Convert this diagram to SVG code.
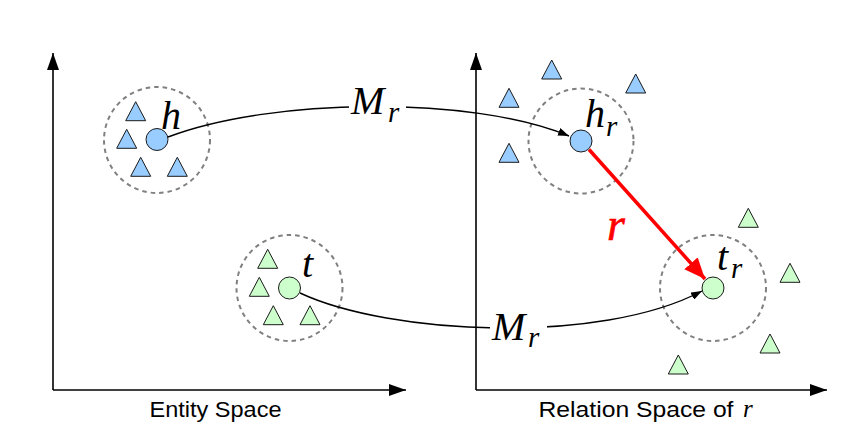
<svg xmlns="http://www.w3.org/2000/svg" xmlns:xlink="http://www.w3.org/1999/xlink" width="866" height="440" viewBox="0 0 866 440">
<style>
.ax{stroke:#000;stroke-width:1.6;fill:none}
.cl{stroke:#808080;stroke-width:2;fill:none;stroke-dasharray:4.5,4}
.b{fill:#99ccff;stroke:#1a1a1a;stroke-width:1}
.g{fill:#ccffcc;stroke:#1a1a1a;stroke-width:1}
.m{font-family:'Liberation Serif','Times New Roman','DejaVu Serif',serif;font-style:italic;font-size:40px;fill:#000}
.s{font-family:'Liberation Serif','Times New Roman','DejaVu Serif',serif;font-style:italic;font-size:29px;fill:#000}
.lab{font-family:'Liberation Sans',Arial,'DejaVu Sans',sans-serif;font-size:21.5px;fill:#000}
.cur{stroke:#000;stroke-width:1.4;fill:none}
</style>
<defs>
<path id="tri" d="M0,0 L10,19 L-10,19 Z"/>
<marker id="axh" markerWidth="18" markerHeight="12" refX="17" refY="6" orient="auto" markerUnits="userSpaceOnUse"><path d="M0,0 L17,6 L0,12 Z" fill="#000"/></marker>
<marker id="sh" markerWidth="12" markerHeight="8" refX="11" refY="4" orient="auto" markerUnits="userSpaceOnUse"><path d="M0,0 L11,4 L0,8 Z" fill="#000"/></marker>
<marker id="rh" markerWidth="22" markerHeight="18" refX="21" refY="9" orient="auto" markerUnits="userSpaceOnUse"><path d="M0,0 L21,9 L0,18 Z" fill="#ff0000"/></marker>
</defs>
<rect width="866" height="440" fill="#fff"/>

<g id="axes">
<path class="ax" d="M53,390 L53,53" marker-end="url(#axh)"/>
<path class="ax" d="M53,390 L406,390" marker-end="url(#axh)"/>
<path class="ax" d="M476,390 L476,53" marker-end="url(#axh)"/>
<path class="ax" d="M476,390 L827,390" marker-end="url(#axh)"/>
</g>

<g id="clusters">
<circle class="cl" cx="157" cy="140" r="53"/>
<circle class="cl" cx="289.5" cy="288" r="53"/>
<circle class="cl" cx="581" cy="141" r="52.5"/>
<circle class="cl" cx="713" cy="288" r="53"/>
</g>

<g id="triangles-blue">
<use xlink:href="#tri" class="b" x="135.7" y="101.7"/>
<use xlink:href="#tri" class="b" x="126.7" y="129.3"/>
<use xlink:href="#tri" class="b" x="140.7" y="157.3"/>
<use xlink:href="#tri" class="b" x="177.3" y="157.3"/>
<use xlink:href="#tri" class="b" x="551.7" y="60"/>
<use xlink:href="#tri" class="b" x="635.7" y="74"/>
<use xlink:href="#tri" class="b" x="509" y="88.3"/>
<use xlink:href="#tri" class="b" x="509" y="143.3"/>
</g>
<g id="triangles-green">
<use xlink:href="#tri" class="g" x="267.7" y="249.3"/>
<use xlink:href="#tri" class="g" x="259.3" y="277.3"/>
<use xlink:href="#tri" class="g" x="273.3" y="305.7"/>
<use xlink:href="#tri" class="g" x="310" y="305.7"/>
<use xlink:href="#tri" class="g" x="748.3" y="208.3"/>
<use xlink:href="#tri" class="g" x="790" y="263.3"/>
<use xlink:href="#tri" class="g" x="770" y="334"/>
<use xlink:href="#tri" class="g" x="678.3" y="355"/>
</g>

<g id="connectors">
<path class="cur" d="M168,137 C270,98 470,95 569,136" marker-end="url(#sh)"/>
<path class="cur" d="M300,293 C390,335 600,345 702,291" marker-end="url(#sh)"/>
<path d="M589,149.5 L705,279" stroke="#ff0000" stroke-width="3.5" fill="none" marker-end="url(#rh)"/>
<rect x="349" y="84" width="57" height="42" fill="#fff"/>
<text class="m" x="351" y="114">M</text><text class="s" x="388" y="122">r</text>
<rect x="490" y="309" width="57" height="42" fill="#fff"/>
<text class="m" x="492" y="340">M</text><text class="s" x="528" y="347">r</text>
<text class="m" x="607" y="240" style="fill:#ff0000;font-size:46px;stroke:#ff0000;stroke-width:0.6">r</text>
</g>

<g id="node-h">
<circle class="b" cx="157" cy="139.5" r="11"/>
<text class="m" x="161" y="129">h</text>
</g>
<g id="node-t">
<circle class="g" cx="289.5" cy="288" r="11"/>
<text class="m" x="302" y="277">t</text>
</g>
<g id="node-hr">
<circle class="b" cx="581" cy="141" r="11"/>
<text class="m" x="585" y="127">h</text><text class="s" x="606" y="136">r</text>
</g>
<g id="node-tr">
<circle class="g" cx="713" cy="288" r="11"/>
<text class="m" x="717" y="270">t</text><text class="s" x="731" y="278">r</text>
</g>

<g id="labels">
<text class="lab" x="149.5" y="417" textLength="132" lengthAdjust="spacingAndGlyphs">Entity Space</text>
<text class="lab" x="538.5" y="417" textLength="195" lengthAdjust="spacingAndGlyphs">Relation Space of</text>
<text class="m" x="743" y="417" style="font-size:25px">r</text>
</g>
</svg>
